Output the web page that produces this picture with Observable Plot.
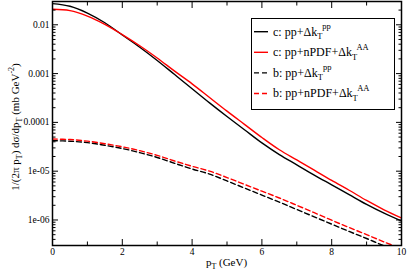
<!DOCTYPE html>
<html><head><meta charset="utf-8">
<script src="https://cdn.jsdelivr.net/npm/d3@7"></script>
<script src="https://cdn.jsdelivr.net/npm/@observablehq/plot@0.6"></script>
<style>body{margin:0;background:#fff}</style>
</head><body><div id="chart"></div>
<script>
// p_T grid (GeV)
const pT = [0,0.5,1,1.5,2,2.5,3,3.5,4,4.5,5,5.5,6,6.5,7,7.5,8,8.5,9,9.5,10];
// c: pp + Δk_T^pp (black solid)
const c_pp = [2.72e-2,2.40e-2,1.74e-2,1.10e-2,6.17e-3,3.47e-3,1.86e-3,9.55e-4,4.90e-4,2.51e-4,1.32e-4,7.08e-5,3.80e-5,2.19e-5,1.35e-5,8.32e-6,5.25e-6,3.31e-6,2.09e-6,1.38e-6,9.55e-7];
// c: pp + nPDF + Δk_T^AA (red solid)
const c_AA = [2.075e-2,1.95e-2,1.51e-2,1.023e-2,6.31e-3,3.72e-3,2.09e-3,1.12e-3,6.17e-4,3.24e-4,1.70e-4,9.12e-5,4.90e-5,2.75e-5,1.70e-5,1.05e-5,6.46e-6,4.07e-6,2.51e-6,1.62e-6,1.10e-6];
// b: pp + Δk_T^pp (black dashed)
const b_pp = [4.21e-5,4.12e-5,3.85e-5,3.39e-5,2.92e-5,2.40e-5,1.91e-5,1.45e-5,1.11e-5,8.71e-6,6.31e-6,4.52e-6,3.24e-6,2.32e-6,1.64e-6,1.16e-6,8.22e-7,5.82e-7,4.17e-7,2.95e-7,2.14e-7];
// b: pp + nPDF + Δk_T^AA (red dashed)
const b_AA = [4.56e-5,4.45e-5,4.12e-5,3.66e-5,3.16e-5,2.63e-5,2.11e-5,1.62e-5,1.26e-5,1.00e-5,7.41e-6,5.37e-6,3.89e-6,2.82e-6,2.00e-6,1.41e-6,9.89e-7,7.00e-7,5.01e-7,3.55e-7,2.57e-7];

const seriesValues = [c_pp, c_AA, b_pp, b_AA];
const seriesFlavor = ["c", "c", "b", "b"];
const seriesBase = ["pp+Δk", "pp+nPDF+Δk", "pp+Δk", "pp+nPDF+Δk"];
const seriesSup = ["pp", "AA", "pp", "AA"];
const seriesColor = ["#000000", "#ff0000", "#000000", "#ff0000"];
const seriesDash = [undefined, undefined, "5,3", "5,3"];

const xMajorTicks = [0, 2, 4, 6, 8, 10];
const xMinorTicks = [1, 3, 5, 7, 9];
const yMajorTicks = [1e-6, 1e-5, 1e-4, 1e-3, 1e-2];
const yTickLabels = ["1e-06", "1e-05", "0.0001", "0.001", "0.01"];
const yDomain = [3e-7, 0.03];
const yMinorTicks = d3.scaleLog().domain(yDomain).ticks().filter(t => !yMajorTicks.some(m => Math.abs(t / m - 1) < 1e-9));

const FONT = "Liberation Serif";
const W = 407, H = 274;
const mL = 52, mR = 6, mT = 1, mB = 29;

const lineMarks = seriesValues.map((vals, k) =>
  Plot.line(pT.map((x, i) => ({x, y: vals[i]})), {
    x: "x", y: "y", stroke: seriesColor[k], strokeWidth: 1.4,
    strokeDasharray: seriesDash[k], curve: "catmull-rom", clip: true
  })
);

const noText = () => "";
const plot = Plot.plot({
  width: W, height: H,
  marginLeft: mL, marginRight: mR, marginTop: mT, marginBottom: mB,
  style: {fontFamily: FONT, fontSize: "9.5px", color: "#000", background: "#fff", overflow: "visible"},
  x: {domain: [0, 10], axis: null},
  y: {type: "log", domain: yDomain, axis: null},
  marks: [
    ...lineMarks,
    Plot.axisX(xMajorTicks, {anchor: "bottom", tickSize: -6, tickPadding: 9, tickFormat: d => String(d), label: null}),
    Plot.axisX(xMinorTicks, {anchor: "bottom", tickSize: -3.5, tickFormat: noText, label: null}),
    Plot.axisX(xMajorTicks, {anchor: "top", tickSize: -6, tickFormat: noText, label: null}),
    Plot.axisX(xMinorTicks, {anchor: "top", tickSize: -3.5, tickFormat: noText, label: null}),
    Plot.axisY(yMajorTicks, {anchor: "left", tickSize: -6, tickPadding: 9, tickFormat: d => yTickLabels[yMajorTicks.indexOf(d)], label: null}),
    Plot.axisY(yMinorTicks, {anchor: "left", tickSize: -3.5, tickFormat: noText, label: null}),
    Plot.axisY(yMajorTicks, {anchor: "right", tickSize: -6, tickFormat: noText, label: null}),
    Plot.axisY(yMinorTicks, {anchor: "right", tickSize: -3.5, tickFormat: noText, label: null}),
    Plot.frame({stroke: "#000", strokeWidth: 1.5})
  ]
});

const svg = d3.select(plot);
function richText(sel, parts) {
  // parts: [text, shift(px, positive = down), size]
  let cur = 0;
  for (const [t, shift, size] of parts) {
    sel.append("tspan").attr("dy", shift - cur).style("font-size", size + "px").text(t);
    cur = shift;
  }
}

// Y axis title
const yl = svg.append("text")
  .attr("transform", "translate(19,127) rotate(-90)")
  .attr("text-anchor", "middle")
  .style("font-family", FONT).style("font-size", "11px").attr("fill", "#000");
richText(yl, [["1/(2π p", 0, 11], ["T", 3, 8], [") dσ/dp", 0, 11], ["T", 3, 8], [" (mb GeV", 0, 11], ["-2", -5, 8], [")", 0, 11]]);

// X axis title
const xl = svg.append("text")
  .attr("x", (mL + W - mR) / 2).attr("y", 266)
  .attr("text-anchor", "middle")
  .style("font-family", FONT).style("font-size", "11px").attr("fill", "#000");
richText(xl, [["p", 0, 11], ["T", 3, 8], [" (GeV)", 0, 11]]);

// Legend
const lg = svg.append("g").attr("text-anchor", "start");
lg.append("rect").attr("x", 251.5).attr("y", 18.5).attr("width", 143).attr("height", 91)
  .attr("fill", "#fff").attr("stroke", "#000").attr("stroke-width", 1);
const rowY = [31.7, 52.3, 72.9, 93.5];
seriesValues.forEach((_, k) => {
  const y = rowY[k];
  lg.append("line").attr("x1", 254).attr("x2", 268).attr("y1", y).attr("y2", y)
    .attr("stroke", seriesColor[k]).attr("stroke-width", 1.4)
    .attr("stroke-dasharray", seriesDash[k] || null);
  const t = lg.append("text").attr("x", 273).attr("y", y + 3.8).attr("text-anchor", "start")
    .style("font-family", FONT).style("font-size", "12px").attr("fill", "#000");
  richText(t, [[seriesFlavor[k] + ": " + seriesBase[k], 0, 12], ["T", 3.5, 8.5], [seriesSup[k], -6.5, 8.5]]);
});

document.getElementById("chart").appendChild(plot);
</script>
</body></html>
